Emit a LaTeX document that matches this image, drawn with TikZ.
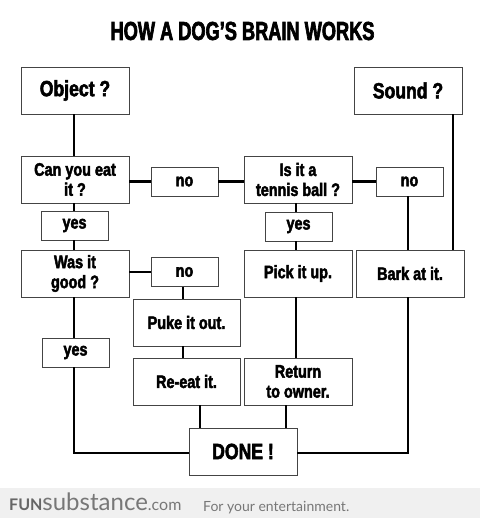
\documentclass[tikz,border=0pt]{standalone}
\usepackage{fontspec}
\usetikzlibrary{calc}
\newfontfamily\titlefnt[FakeStretch=0.70,FakeBold=2.5]{Liberation Sans Bold}
\newfontfamily\boxfnt[FakeStretch=0.80,FakeBold=2.5]{Liberation Sans Bold}
\newfontfamily\footfnt{Lato}
\definecolor{boxline}{HTML}{444444}
\definecolor{footbg}{HTML}{F0F0F0}
\definecolor{footgray}{HTML}{666666}
\definecolor{footlight}{HTML}{777777}
\begin{document}
\begin{tikzpicture}[x=1pt,y=-1pt,
  bigbox/.style={draw=boxline,line width=0.9pt,fill=white,minimum width=108pt,minimum height=47pt,
    inner sep=0pt,align=center,font=\boxfnt\fontsize{18}{20}\selectfont},
  smallbox/.style={draw=boxline,line width=0.9pt,fill=white,minimum width=67pt,minimum height=29pt,
    inner sep=0pt,align=center,font=\boxfnt\fontsize{18}{20}\selectfont},
  bigtext/.style={font=\boxfnt\fontsize{22}{24}\selectfont},
  conn/.style={line width=2.6pt,black}]
\useasboundingbox (0,0) rectangle (480,518);
\fill[white] (0,0) rectangle (480,518);
\fill[footbg] (0,488) rectangle (480,518);
% title
\node (title) at (242.5,31) {\titlefnt\fontsize{26}{28}\selectfont HOW A DOG’S BRAIN WORKS};
% boxes
\node[bigbox,bigtext] (obj) at (75,90.5) {Object ?};
\node[bigbox,bigtext] (snd) at (408,90.5) {Sound ?};
\node[bigbox] (eat) at (75,179.5) {Can you eat\\it ?};
\node[smallbox] (no1) at (184.5,181.5) {no};
\node[bigbox] (ten) at (298,179.5) {Is it a\\tennis ball ?};
\node[smallbox] (no2) at (409.5,181.5) {no};
\node[smallbox] (yes1) at (74.5,225.5) {yes};
\node[smallbox] (yes2) at (298.5,226.5) {yes};
\node[bigbox] (good) at (75,273.5) {Was it\\good ?};
\node[smallbox] (no3) at (184.5,272) {no};
\node[bigbox] (pick) at (298,273.5) {Pick it up.};
\node[bigbox] (bark) at (410,273.5) {Bark at it.};
\node[bigbox,minimum width=107pt] (puke) at (186.5,322.5) {Puke it out.};
\node[bigbox,minimum width=107pt] (reeat) at (186.5,381.5) {Re-eat it.};
\node[bigbox] (ret) at (298,381.5) {Return\\to owner.};
\node[smallbox] (yes3) at (75.5,352.5) {yes};
\node[bigbox,bigtext] (done) at (243,451.5) {DONE !};
% connectors
\draw[conn] (obj.south -| 74,0) -- (eat.north -| 74,0);
\draw[conn] (eat.east |- no1.west) -- (no1.west);
\draw[conn] (no1.east) -- (ten.west |- no1.east);
\draw[conn] (ten.east |- no2.west) -- (no2.west);
\draw[conn] (eat.south -| 74,0) -- (yes1.north -| 74,0);
\draw[conn] (yes1.south -| 74,0) -- (good.north -| 74,0);
\draw[conn] (ten.south -| 296,0) -- (yes2.north -| 296,0);
\draw[conn] (yes2.south -| 296,0) -- (pick.north -| 296,0);
\draw[conn] (no2.south -| 408,0) -- (bark.north -| 408,0);
\draw[conn] (snd.south -| 453,0) -- (bark.north -| 453,0);
\draw[conn] (good.east |- no3.west) -- (no3.west);
\draw[conn] (no3.south -| 183,0) -- (puke.north -| 183,0);
\draw[conn] (puke.south -| 183,0) -- (reeat.north -| 183,0);
\draw[conn] (pick.south -| 296,0) -- (ret.north -| 296,0);
\draw[conn] (good.south -| 74,0) -- (yes3.north -| 74,0);
\coordinate (cl) at (74,453);
\coordinate (cr) at (408,453);
\draw[conn] (yes3.south -| 74,0) -- (cl) -- (done.west |- cl);
\draw[conn] (done.east |- cr) -- (cr) -- (bark.south -| cr);
\draw[conn] (reeat.south -| 200,0) -- (done.north -| 200,0);
\draw[conn] (ret.south -| 286,0) -- (done.north -| 286,0);
% footer
\node[anchor=base west,inner sep=0pt] (brand) at (9,510) {\footfnt\textcolor{footgray}{\fontsize{16}{16}\selectfont\bfseries FUN}\textcolor{footlight}{\fontsize{24}{24}\selectfont substance}\textcolor{footlight}{\fontsize{16}{16}\selectfont .com}};
\node[anchor=base west,inner sep=0pt] (tag) at (203,511) {\footfnt\fontsize{14}{14}\selectfont\textcolor{footlight}{For your entertainment.}};
\end{tikzpicture}
\end{document}
